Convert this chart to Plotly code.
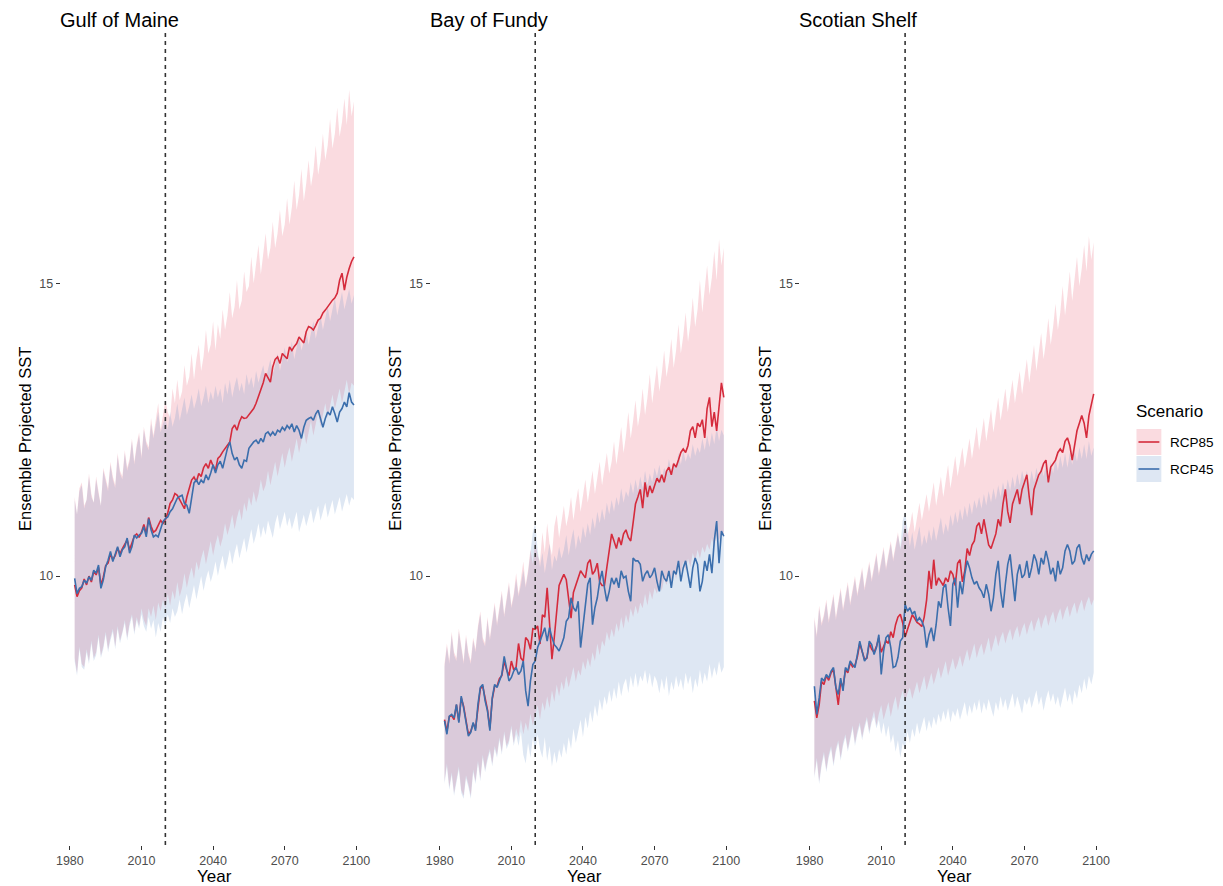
import plotly.graph_objects as go

# ---------------- data ----------------
years = list(range(1982, 2100))
regions = ["Gulf of Maine", "Bay of Fundy", "Scotian Shelf"]
scenarios = ["RCP85", "RCP45"]
x_ticks = [1980, 2010, 2040, 2070, 2100]
y_ticks = [10, 15]
ref_year = 2020

gom_rcp85_mean = [
    9.85, 9.65, 9.75, 9.80, 9.95, 9.85, 10.00, 9.90, 10.08, 10.02,
    10.15, 9.85, 9.98, 10.18, 10.22, 10.38, 10.28, 10.35, 10.48, 10.38,
    10.47, 10.55, 10.62, 10.45, 10.55, 10.68, 10.72, 10.66, 10.75, 10.88,
    10.72, 11.00, 10.85, 10.75, 10.78, 10.88, 10.95, 10.90, 10.96, 11.08,
    11.24, 11.30, 11.41, 11.38, 11.30, 11.21, 11.15, 11.35, 11.50, 11.64,
    11.69, 11.61, 11.75, 11.70, 11.85, 11.92, 11.84, 11.98, 11.88, 11.81,
    12.01, 12.05, 12.12, 12.18, 12.22, 12.29, 12.52, 12.58, 12.49, 12.63,
    12.72, 12.69, 12.70, 12.75, 12.80, 12.86, 12.95, 13.06, 13.17, 13.30,
    13.46, 13.38, 13.31, 13.57, 13.70, 13.74, 13.63, 13.80, 13.76, 13.71,
    13.91, 13.85, 13.92, 13.97, 14.08, 14.03, 13.98, 14.17, 14.26, 14.24,
    14.20, 14.28, 14.37, 14.40, 14.49, 14.54, 14.60, 14.66, 14.71, 14.75,
    14.83, 15.05, 15.17, 14.88, 15.10, 15.25, 15.37, 15.45]
gom_rcp85_lo = [
    8.60, 8.35, 8.80, 8.50, 8.45, 8.75, 8.55, 8.90, 8.60, 8.70,
    9.00, 8.65, 8.80, 9.05, 8.75, 8.95, 9.10, 8.80, 9.15, 8.90,
    9.05, 9.25, 8.95, 9.20, 9.35, 9.05, 9.30, 9.15, 9.45, 9.25,
    9.15, 9.45, 9.30, 9.50, 9.25, 9.55, 9.40, 9.60, 9.45, 9.70,
    9.50, 9.75, 9.60, 9.90, 9.65, 9.80, 10.05, 9.80, 10.00, 10.15,
    9.95, 10.25, 10.10, 10.30, 10.45, 10.20, 10.40, 10.60, 10.35, 10.55,
    10.70, 10.50, 10.65, 10.90, 10.70, 10.85, 11.05, 10.80, 11.00, 11.15,
    10.95, 11.25, 11.10, 11.35, 11.20, 11.45, 11.25, 11.40, 11.65, 11.45,
    11.55, 11.80, 11.55, 11.75, 11.95, 11.70, 11.90, 12.10, 11.85, 12.05,
    12.20, 11.95, 12.15, 12.35, 12.10, 12.30, 12.50, 12.25, 12.45, 12.65,
    12.40, 12.60, 12.80, 12.55, 12.75, 12.95, 12.70, 12.90, 13.10, 12.85,
    13.00, 13.20, 12.95, 13.15, 13.35, 13.10, 13.30, 13.25]
gom_rcp85_hi = [
    11.35, 11.05, 11.50, 11.60, 11.20, 11.30, 11.75, 11.40, 11.25, 11.70,
    11.45, 11.20, 11.85, 11.65, 11.50, 11.95, 11.70, 11.55, 12.10, 11.80,
    11.70, 12.15, 11.85, 12.00, 12.35, 11.95, 12.25, 12.45, 12.05, 12.55,
    12.30, 12.20, 12.70, 12.40, 12.65, 12.95, 12.50, 12.75, 13.00, 12.80,
    12.70, 13.20, 12.95, 13.35, 13.00, 13.15, 13.60, 13.25, 13.40, 13.80,
    13.35, 13.70, 13.95, 13.50, 13.75, 14.20, 13.80, 13.95, 14.35, 13.85,
    14.30, 14.05, 14.55, 14.20, 14.45, 14.85, 14.40, 14.60, 15.05, 14.55,
    14.70, 15.20, 14.85, 14.95, 15.45, 15.00, 15.30, 15.65, 15.15, 15.50,
    15.85, 15.40, 15.60, 16.05, 15.60, 15.85, 16.25, 15.80, 16.00, 16.45,
    16.00, 16.30, 16.75, 16.25, 16.50, 16.95, 16.40, 16.70, 17.10, 16.65,
    16.90, 17.35, 16.85, 17.10, 17.55, 17.10, 17.35, 17.80, 17.30, 17.55,
    18.00, 17.50, 17.75, 18.15, 17.70, 18.30, 17.85, 18.10]
gom_rcp45_mean = [
    9.96, 9.70, 9.79, 9.82, 9.93, 9.88, 9.99, 9.93, 10.10, 10.05,
    10.19, 9.79, 9.93, 10.16, 10.27, 10.42, 10.25, 10.39, 10.50, 10.33,
    10.45, 10.50, 10.65, 10.39, 10.50, 10.70, 10.65, 10.70, 10.73, 10.84,
    10.67, 10.98, 10.79, 10.67, 10.70, 10.67, 10.81, 10.93, 10.98, 11.01,
    11.10, 11.15, 11.24, 11.33, 11.36, 11.38, 11.24, 11.21, 11.07, 11.36,
    11.59, 11.64, 11.56, 11.64, 11.59, 11.73, 11.64, 11.76, 11.90, 11.76,
    11.90, 11.96, 11.84, 12.01, 12.18, 12.29, 12.09, 11.98, 12.03, 11.90,
    11.84, 11.98, 11.96, 12.18, 12.24, 12.29, 12.32, 12.26, 12.35, 12.29,
    12.43, 12.46, 12.40, 12.46, 12.40, 12.49, 12.46, 12.54, 12.49, 12.57,
    12.52, 12.60, 12.46, 12.57, 12.49, 12.35, 12.54, 12.66, 12.69, 12.71,
    12.66, 12.77, 12.83, 12.66, 12.54, 12.69, 12.80, 12.75, 12.89, 12.77,
    12.63, 12.80, 12.86, 12.97, 12.89, 13.13, 12.97, 12.92]
gom_rcp45_lo = [
    8.55, 8.30, 8.75, 8.45, 8.40, 8.70, 8.50, 8.85, 8.55, 8.65,
    8.95, 8.60, 8.75, 9.00, 8.70, 8.90, 9.05, 8.75, 9.10, 8.85,
    9.00, 9.20, 8.90, 9.15, 9.30, 9.00, 9.25, 9.10, 9.35, 9.15,
    9.05, 9.30, 9.10, 9.25, 8.95, 9.20, 9.05, 9.30, 9.15, 9.35,
    9.20, 9.45, 9.30, 9.40, 9.60, 9.35, 9.55, 9.70, 9.45, 9.65,
    9.85, 9.60, 9.80, 10.00, 9.75, 9.95, 10.10, 9.90, 10.05, 10.25,
    10.00, 10.20, 10.35, 10.10, 10.25, 10.45, 10.20, 10.40, 10.55, 10.30,
    10.45, 10.65, 10.40, 10.60, 10.80, 10.55, 10.70, 10.90, 10.65, 10.85,
    10.70, 10.95, 10.80, 10.65, 10.90, 11.05, 10.80, 10.95, 11.10, 10.85,
    11.00, 10.80, 10.95, 11.10, 10.75, 10.90, 11.05, 10.85, 11.00, 11.15,
    10.90, 11.05, 11.20, 10.95, 11.10, 11.25, 11.00, 11.15, 11.30, 11.05,
    11.20, 11.35, 11.10, 11.25, 11.40, 11.20, 11.35, 11.30]
gom_rcp45_hi = [
    11.30, 11.05, 11.45, 11.55, 11.15, 11.30, 11.70, 11.35, 11.25, 11.65,
    11.40, 11.20, 11.80, 11.60, 11.45, 11.90, 11.65, 11.50, 12.05, 11.75,
    11.65, 12.10, 11.80, 11.95, 12.30, 11.90, 12.20, 12.40, 12.00, 12.50,
    12.25, 12.15, 12.60, 12.35, 12.55, 12.80, 12.45, 12.60, 12.70, 12.50,
    12.80, 12.55, 12.70, 12.95, 12.65, 12.85, 13.05, 12.75, 12.90, 13.10,
    12.85, 13.00, 13.20, 12.90, 13.05, 13.25, 12.95, 13.15, 13.00, 13.25,
    13.05, 13.20, 12.95, 13.30, 13.10, 13.35, 13.05, 13.25, 13.40, 13.15,
    13.30, 13.10, 13.45, 13.25, 13.40, 13.20, 13.50, 13.30, 13.45, 13.60,
    13.35, 13.55, 13.70, 13.45, 13.60, 13.80, 13.50, 13.70, 13.90, 13.65,
    13.80, 14.00, 13.70, 13.90, 14.10, 13.85, 14.00, 14.20, 13.95, 14.15,
    14.35, 14.05, 14.25, 14.45, 14.20, 14.40, 14.60, 14.35, 14.55, 14.75,
    14.45, 14.65, 14.85, 14.55, 14.75, 14.90, 14.65, 14.80]

bof_rcp85_mean = [
    7.55, 7.35, 7.60, 7.62, 7.55, 7.80, 7.52, 7.92, 7.78, 7.52,
    7.30, 7.35, 7.48, 7.40, 7.80, 8.08, 8.12, 7.90, 7.72, 7.40,
    7.90, 8.12, 8.12, 8.25, 8.30, 8.55, 8.40, 8.30, 8.55, 8.40,
    8.45, 8.85, 8.60, 8.55, 8.95, 8.90, 8.75, 9.10, 9.09, 9.15,
    8.84, 9.34, 9.30, 9.80, 9.21, 8.58, 8.96, 9.40, 9.84, 9.94,
    10.03, 9.94, 9.59, 9.28, 9.72, 9.84, 9.97, 10.09, 10.03, 9.97,
    10.22, 10.28, 10.03, 10.09, 10.22, 9.90, 9.84, 9.84, 10.15, 10.41,
    10.72, 10.60, 10.47, 10.66, 10.53, 10.72, 10.79, 10.66, 10.60, 10.91,
    11.23, 11.35, 11.48, 11.16, 11.60, 11.35, 11.54, 11.42, 11.54, 11.67,
    11.60, 11.73, 11.60, 11.79, 11.86, 11.73, 11.92, 11.86, 11.98, 12.11,
    12.17, 12.11, 12.23, 12.48, 12.55, 12.36, 12.61, 12.55, 12.67, 12.36,
    12.86, 13.05, 12.55, 12.80, 12.48, 12.92, 13.30, 13.05]
bof_rcp85_lo = [
    6.50, 6.80, 6.40, 6.65, 6.30, 6.55, 6.75, 6.35, 6.25, 6.60,
    6.45, 6.25, 6.70, 6.50, 6.85, 6.55, 6.95, 6.70, 6.90, 7.05,
    6.80, 7.10, 6.95, 7.25, 7.00, 7.35, 7.10, 7.20, 7.45, 7.15,
    7.40, 7.25, 7.55, 7.30, 7.50, 7.35, 7.65, 7.45, 7.60, 7.80,
    7.55, 7.85, 7.70, 7.95, 7.75, 8.05, 7.85, 8.15, 7.95, 8.20,
    8.05, 8.30, 8.10, 8.25, 8.45, 8.20, 8.40, 8.30, 8.55, 8.40,
    8.60, 8.45, 8.70, 8.55, 8.85, 8.65, 8.90, 8.80, 9.05, 8.90,
    9.10, 8.95, 9.20, 9.05, 9.30, 9.10, 9.35, 9.20, 9.45, 9.30,
    9.50, 9.35, 9.55, 9.45, 9.70, 9.50, 9.75, 9.60, 9.80, 9.70,
    9.90, 9.75, 9.95, 9.85, 10.05, 9.90, 10.10, 9.95, 10.15, 10.05,
    10.25, 10.10, 10.30, 10.15, 10.40, 10.25, 10.45, 10.30, 10.50, 10.40,
    10.55, 10.45, 10.65, 10.50, 10.70, 10.60, 10.75, 10.70]
bof_rcp85_hi = [
    8.50, 8.85, 8.55, 9.05, 8.70, 8.60, 9.10, 8.80, 8.55, 9.00,
    8.70, 8.55, 8.95, 8.75, 9.15, 9.40, 8.95, 8.85, 9.30, 8.95,
    9.25, 9.55, 9.20, 9.45, 9.75, 9.35, 9.60, 9.90, 9.50, 9.70,
    10.05, 9.70, 9.95, 10.25, 9.85, 10.10, 10.45, 10.20, 10.60, 10.35,
    10.25, 10.75, 10.40, 10.90, 10.55, 10.35, 10.85, 11.05, 10.65, 10.95,
    11.20, 10.85, 11.05, 11.35, 10.95, 11.25, 11.50, 11.10, 11.35, 11.65,
    11.25, 11.55, 11.80, 11.40, 11.65, 11.95, 11.55, 11.85, 12.10, 11.75,
    11.95, 12.30, 11.90, 12.20, 12.55, 12.10, 12.40, 12.80, 12.35, 12.65,
    13.00, 12.55, 12.80, 13.20, 12.75, 13.05, 13.45, 12.95, 13.25, 13.60,
    13.15, 13.45, 13.85, 13.40, 13.65, 14.05, 13.55, 13.85, 14.30, 13.80,
    14.10, 14.50, 14.00, 14.30, 14.75, 14.25, 14.55, 15.05, 14.50, 14.85,
    15.30, 14.80, 15.10, 15.55, 15.05, 15.75, 15.30, 15.60]
bof_rcp45_mean = [
    7.53, 7.30, 7.61, 7.64, 7.58, 7.81, 7.50, 7.95, 7.75, 7.50,
    7.27, 7.33, 7.50, 7.36, 7.81, 8.10, 8.15, 7.87, 7.70, 7.36,
    7.92, 8.15, 8.10, 8.21, 8.32, 8.63, 8.44, 8.21, 8.27, 8.38,
    8.44, 8.32, 8.38, 8.55, 8.04, 7.78, 8.21, 8.49, 8.55, 8.78,
    8.89, 9.00, 9.12, 8.89, 9.12, 8.95, 8.83, 8.78, 8.72, 8.83,
    8.95, 9.23, 9.29, 9.63, 9.46, 9.40, 9.57, 8.78, 9.12, 9.46,
    9.86, 9.97, 9.17, 9.46, 9.63, 9.91, 10.09, 9.80, 9.57, 9.74,
    9.97, 9.86, 9.97, 9.80, 10.09, 9.97, 10.00, 9.74, 9.57, 10.31,
    10.26, 10.26, 10.20, 9.91, 10.03, 10.09, 9.97, 10.03, 10.14, 9.91,
    9.74, 10.09, 9.97, 9.91, 10.09, 9.80, 10.09, 10.03, 10.26, 9.91,
    10.14, 10.26, 10.03, 9.80, 10.14, 10.31, 10.20, 9.74, 9.91, 10.26,
    10.09, 10.37, 10.05, 10.60, 10.94, 10.22, 10.77, 10.68]
bof_rcp45_lo = [
    6.45, 6.75, 6.35, 6.60, 6.25, 6.50, 6.70, 6.30, 6.20, 6.55,
    6.40, 6.20, 6.65, 6.45, 6.80, 6.50, 6.90, 6.65, 6.85, 7.00,
    6.75, 7.05, 6.90, 7.20, 6.95, 7.30, 7.05, 7.15, 7.40, 7.10,
    7.30, 7.10, 7.35, 6.95, 6.80, 7.15, 6.90, 7.25, 7.00, 7.30,
    7.05, 6.90, 7.25, 6.85, 7.10, 6.75, 7.00, 6.80, 7.05, 6.90,
    7.15, 6.95, 7.25, 7.05, 7.40, 7.15, 7.35, 7.55, 7.25, 7.60,
    7.40, 7.70, 7.50, 7.80, 7.60, 7.90, 7.70, 7.95, 7.80, 8.05,
    7.85, 8.10, 7.90, 8.20, 7.95, 8.15, 8.25, 8.00, 8.30, 8.10,
    8.35, 8.10, 8.30, 8.20, 8.40, 8.15, 8.35, 8.10, 8.30, 8.20,
    8.00, 8.25, 8.05, 8.30, 7.95, 8.20, 8.05, 8.30, 8.10, 8.25,
    8.05, 8.35, 8.15, 8.30, 8.00, 8.25, 8.10, 8.40, 8.15, 8.35,
    8.20, 8.50, 8.25, 8.45, 8.30, 8.55, 8.35, 8.45]
bof_rcp45_hi = [
    8.45, 8.80, 8.50, 9.00, 8.65, 8.55, 9.05, 8.75, 8.50, 8.95,
    8.65, 8.50, 8.90, 8.70, 9.10, 9.35, 8.90, 8.80, 9.25, 8.90,
    9.20, 9.50, 9.15, 9.40, 9.70, 9.30, 9.55, 9.85, 9.45, 9.65,
    9.95, 9.65, 9.85, 10.10, 9.80, 10.05, 10.40, 10.75, 10.90, 10.45,
    10.15, 10.40, 10.05, 10.30, 10.55, 10.10, 10.35, 10.25, 10.50, 10.30,
    10.45, 10.70, 10.35, 10.60, 10.80, 10.45, 10.70, 10.55, 10.85, 10.65,
    10.90, 10.70, 11.00, 10.80, 11.10, 10.90, 11.15, 10.95, 11.25, 11.05,
    11.30, 11.10, 11.35, 11.20, 11.50, 11.25, 11.45, 11.35, 11.60, 11.40,
    11.65, 11.45, 11.70, 11.50, 11.80, 11.55, 11.75, 11.60, 11.85, 11.70,
    11.90, 11.65, 11.85, 11.75, 12.00, 11.80, 11.95, 11.85, 12.10, 11.90,
    12.15, 11.95, 12.10, 12.00, 12.25, 12.05, 12.20, 12.10, 12.35, 12.15,
    12.40, 12.20, 12.45, 12.25, 12.55, 12.30, 12.50, 12.40]

ss_rcp85_mean = [
    7.87, 7.58, 7.80, 8.20, 8.15, 8.30, 8.22, 8.35, 8.40, 8.05,
    7.80, 8.20, 8.10, 8.40, 8.35, 8.52, 8.45, 8.48, 8.62, 8.85,
    8.70, 8.58, 8.60, 8.85, 8.75, 8.70, 8.80, 8.95, 8.70, 8.80,
    8.90, 8.85, 9.05, 8.95, 9.17, 9.30, 9.35, 9.20, 8.96, 9.09,
    9.20, 9.34, 9.28, 9.21, 9.18, 9.14, 9.30, 9.59, 10.09, 9.78,
    10.28, 9.84, 9.97, 9.90, 9.84, 9.97, 9.90, 10.09, 10.03, 9.84,
    10.22, 10.28, 9.90, 10.09, 10.47, 10.35, 10.53, 10.60, 10.85, 10.91,
    10.72, 10.97, 10.72, 10.53, 10.47, 10.60, 10.72, 10.97, 10.85, 11.23,
    11.48, 11.10, 10.91, 11.23, 11.35, 11.48, 11.23, 11.48, 11.60, 11.73,
    11.35, 11.04, 11.48, 11.60, 11.73, 11.79, 11.92, 11.98, 11.60, 11.86,
    11.92, 11.98, 12.11, 12.17, 12.11, 12.30, 12.36, 12.23, 11.98, 12.23,
    12.48, 12.61, 12.74, 12.61, 12.36, 12.74, 12.92, 13.11]
ss_rcp85_lo = [
    6.60, 6.90, 6.50, 6.80, 7.00, 6.70, 6.95, 7.10, 6.80, 7.05,
    7.20, 6.90, 7.15, 7.30, 7.05, 7.25, 7.45, 7.15, 7.35, 7.50,
    7.25, 7.45, 7.60, 7.35, 7.55, 7.70, 7.45, 7.65, 7.80, 7.55,
    7.70, 7.85, 7.60, 7.80, 7.95, 7.70, 7.90, 8.05, 7.85, 8.00,
    8.10, 7.90, 8.05, 8.20, 8.00, 8.15, 8.30, 8.05, 8.20, 8.35,
    8.15, 8.30, 8.45, 8.25, 8.40, 8.55, 8.30, 8.45, 8.60, 8.40,
    8.50, 8.65, 8.45, 8.60, 8.75, 8.55, 8.70, 8.85, 8.60, 8.75,
    8.85, 8.65, 8.80, 8.95, 8.70, 8.85, 9.00, 8.80, 8.95, 9.05,
    8.85, 9.00, 9.10, 8.90, 9.05, 9.15, 8.95, 9.10, 9.20, 9.00,
    9.15, 9.25, 9.05, 9.20, 9.30, 9.10, 9.25, 9.35, 9.15, 9.30,
    9.40, 9.20, 9.35, 9.45, 9.25, 9.40, 9.50, 9.30, 9.45, 9.55,
    9.35, 9.50, 9.60, 9.40, 9.55, 9.65, 9.50, 9.60]
ss_rcp85_hi = [
    9.30, 9.00, 9.50, 9.20, 9.35, 9.60, 9.25, 9.45, 9.70, 9.30,
    9.55, 9.80, 9.45, 9.65, 9.90, 9.55, 9.75, 10.00, 9.70, 9.90,
    10.15, 9.80, 10.05, 10.25, 9.95, 10.20, 10.40, 10.05, 10.30, 10.50,
    10.15, 10.40, 10.60, 10.30, 10.55, 10.75, 10.45, 10.65, 10.90, 10.70,
    10.85, 11.10, 10.75, 11.00, 11.25, 10.95, 11.15, 11.40, 11.10, 11.35,
    11.60, 11.20, 11.45, 11.70, 11.35, 11.65, 11.90, 11.50, 11.80, 12.05,
    11.70, 11.95, 12.20, 11.85, 12.10, 12.35, 12.00, 12.25, 12.55, 12.15,
    12.40, 12.70, 12.30, 12.55, 12.85, 12.45, 12.75, 13.05, 12.65, 12.90,
    13.20, 12.80, 13.05, 13.35, 12.95, 13.20, 13.50, 13.10, 13.40, 13.70,
    13.30, 13.60, 13.95, 13.50, 13.80, 14.15, 13.70, 14.00, 14.40, 13.95,
    14.25, 14.65, 14.20, 14.50, 14.95, 14.45, 14.80, 15.20, 14.70, 15.05,
    15.45, 14.95, 15.25, 15.65, 15.20, 15.80, 15.40, 15.70]
ss_rcp45_mean = [
    8.12, 7.64, 7.92, 8.26, 8.21, 8.32, 8.26, 8.38, 8.44, 8.10,
    7.98, 8.26, 8.04, 8.44, 8.38, 8.55, 8.49, 8.44, 8.66, 8.89,
    8.72, 8.55, 8.61, 8.89, 8.83, 8.66, 8.78, 9.00, 8.32, 8.72,
    8.95, 9.00, 8.78, 8.44, 8.46, 8.61, 8.89, 8.95, 9.52, 9.40,
    9.46, 9.35, 9.40, 9.23, 9.29, 9.23, 9.12, 8.78, 9.00, 9.12,
    8.89, 9.17, 9.57, 9.46, 9.80, 9.86, 9.46, 9.15, 9.86, 9.97,
    9.46, 9.91, 9.69, 10.03, 10.26, 10.14, 9.97, 9.86, 9.91, 9.80,
    9.74, 9.63, 9.86, 9.69, 9.40, 9.63, 10.03, 10.26, 9.74, 9.46,
    9.86, 10.20, 10.37, 9.91, 9.57, 10.03, 10.20, 9.97, 10.03, 10.26,
    9.97, 10.14, 10.37, 10.26, 10.03, 10.31, 10.20, 10.43, 10.26, 10.03,
    10.14, 9.91, 10.26, 10.03, 10.14, 10.43, 10.54, 10.43, 10.20, 10.26,
    10.48, 10.54, 10.31, 10.20, 10.37, 10.26, 10.37, 10.43]
ss_rcp45_lo = [
    6.55, 6.85, 6.45, 6.75, 6.95, 6.65, 6.90, 7.05, 6.75, 7.00,
    7.15, 6.85, 7.10, 7.25, 7.00, 7.20, 7.40, 7.10, 7.30, 7.45,
    7.20, 7.40, 7.55, 7.30, 7.50, 7.60, 7.40, 7.55, 7.30, 7.50,
    7.25, 7.45, 7.15, 7.30, 7.00, 7.20, 6.90, 7.15, 7.05, 7.35,
    7.15, 7.40, 7.25, 7.50, 7.30, 7.45, 7.60, 7.35, 7.55, 7.40,
    7.60, 7.45, 7.65, 7.50, 7.70, 7.55, 7.75, 7.50, 7.70, 7.60,
    7.75, 7.55, 7.70, 7.85, 7.60, 7.80, 7.65, 7.85, 7.70, 7.90,
    7.65, 7.85, 7.70, 7.90, 7.75, 7.60, 7.85, 7.70, 7.95, 7.75,
    7.90, 7.70, 7.85, 8.00, 7.75, 7.95, 7.80, 7.65, 7.90, 7.80,
    7.95, 7.75, 7.90, 8.05, 7.80, 7.95, 7.70, 7.90, 8.05, 7.85,
    8.00, 7.80, 7.95, 7.75, 7.90, 8.10, 7.85, 8.00, 7.80, 8.05,
    7.90, 8.15, 8.00, 8.25, 8.05, 8.30, 8.15, 8.35]
ss_rcp45_hi = [
    9.25, 8.95, 9.45, 9.15, 9.30, 9.55, 9.20, 9.40, 9.65, 9.25,
    9.50, 9.75, 9.40, 9.60, 9.85, 9.50, 9.70, 9.95, 9.65, 9.85,
    10.10, 9.75, 10.00, 10.20, 9.90, 10.15, 10.35, 10.00, 10.25, 10.45,
    10.10, 10.35, 10.55, 10.25, 10.50, 10.70, 10.50, 10.95, 11.10, 10.75,
    10.50, 10.75, 10.45, 10.65, 10.85, 10.50, 10.70, 10.55, 10.80, 10.60,
    10.85, 10.60, 10.80, 11.00, 10.70, 10.90, 10.75, 11.05, 10.85, 11.10,
    10.90, 11.15, 10.95, 11.20, 11.00, 11.25, 11.05, 11.30, 11.15, 11.35,
    11.15, 11.40, 11.20, 11.45, 11.25, 11.50, 11.30, 11.55, 11.35, 11.60,
    11.40, 11.65, 11.45, 11.70, 11.50, 11.75, 11.55, 11.80, 11.60, 11.80,
    11.55, 11.80, 11.60, 11.85, 11.65, 11.90, 11.70, 11.90, 11.65, 11.95,
    11.75, 12.00, 11.80, 12.05, 11.85, 12.10, 11.85, 12.10, 11.90, 12.15,
    11.95, 12.20, 12.00, 12.25, 12.00, 12.30, 12.05, 12.20]

series = {
    "Gulf of Maine": {
        "RCP85": (gom_rcp85_mean, gom_rcp85_lo, gom_rcp85_hi),
        "RCP45": (gom_rcp45_mean, gom_rcp45_lo, gom_rcp45_hi)},
    "Bay of Fundy": {
        "RCP85": (bof_rcp85_mean, bof_rcp85_lo, bof_rcp85_hi),
        "RCP45": (bof_rcp45_mean, bof_rcp45_lo, bof_rcp45_hi)},
    "Scotian Shelf": {
        "RCP85": (ss_rcp85_mean, ss_rcp85_lo, ss_rcp85_hi),
        "RCP45": (ss_rcp45_mean, ss_rcp45_lo, ss_rcp45_hi)},
}

# ---------------- style ----------------
FW, FH = 1223, 886
FONT = "Liberation Sans, Arial, sans-serif"
line_col = {"RCP85": "#d52b3c", "RCP45": "#3b6eac"}
fill_col = {"RCP85": "rgba(230,75,100,0.20)", "RCP45": "rgba(90,135,195,0.20)"}
panel_px = [(56, 365), (428, 737), (800, 1109)]
top_px, bot_px = 33, 845
x_range = [1976.15, 2104.85]
y_range = [5.41, 19.27]


def px(x):
    return x / FW


def py(y):
    return 1 - y / FH


fig = go.Figure()
annotations = []
shapes = []

for i, reg in enumerate(regions):
    xa = "x" if i == 0 else f"x{i + 1}"
    ya = "y" if i == 0 else f"y{i + 1}"
    for sc in scenarios:
        mean, lo, hi = series[reg][sc]
        fig.add_trace(go.Scatter(
            x=years + years[::-1], y=hi + lo[::-1], xaxis=xa, yaxis=ya,
            fill="toself", fillcolor=fill_col[sc], mode="lines",
            line=dict(width=0, color=fill_col[sc]), hoverinfo="skip",
            showlegend=False))
    for sc in scenarios:
        mean, lo, hi = series[reg][sc]
        fig.add_trace(go.Scatter(
            x=years, y=mean, xaxis=xa, yaxis=ya, mode="lines",
            line=dict(width=1.6, color=line_col[sc]), name=sc,
            showlegend=False))

    x0, x1 = panel_px[i]
    ax_common = dict(showgrid=False, zeroline=False, showline=False,
                     ticks="outside", ticklen=4, tickwidth=1,
                     tickcolor="#333333",
                     tickfont=dict(family=FONT, size=12.5, color="#4d4d4d"))
    fig.update_layout(**{
        ("xaxis" if i == 0 else f"xaxis{i + 1}"): dict(
            domain=[px(x0), px(x1)], range=x_range, anchor=ya,
            tickvals=x_ticks, **ax_common),
        ("yaxis" if i == 0 else f"yaxis{i + 1}"): dict(
            domain=[py(bot_px), py(top_px)], range=y_range, anchor=xa,
            tickvals=y_ticks, **ax_common),
    })

    shapes.append(dict(type="line", xref=xa, yref=f"{ya} domain",
                       x0=ref_year, x1=ref_year, y0=0, y1=1,
                       line=dict(color="#333333", width=1.6, dash="4px,4px")))

    annotations.append(dict(text=reg, xref="paper", yref="paper",
                            x=px(x0 - 3), y=py(20), xanchor="left",
                            yanchor="middle", showarrow=False,
                            font=dict(family=FONT, size=20, color="#000000")))
    annotations.append(dict(text="Ensemble Projected SST", xref="paper",
                            yref="paper", x=px(x0 - 36),
                            y=py((top_px + bot_px) / 2),
                            xanchor="center", yanchor="middle", textangle=-90,
                            showarrow=False,
                            font=dict(family=FONT, size=16.5, color="#000000")))
    annotations.append(dict(text="Year", xref="paper", yref="paper",
                            x=px((x0 + x1) / 2), y=py(876), xanchor="center",
                            yanchor="middle", showarrow=False,
                            font=dict(family=FONT, size=17, color="#000000")))

# manual legend
annotations.append(dict(text="Scenario", xref="paper", yref="paper",
                        x=px(1135), y=py(412), xanchor="left", yanchor="middle",
                        showarrow=False,
                        font=dict(family=FONT, size=17, color="#000000")))
for k, sc in enumerate(scenarios):
    top = 429 + k * 27
    shapes.append(dict(type="rect", xref="paper", yref="paper",
                       x0=px(1138), x1=px(1163), y0=py(top + 26), y1=py(top),
                       fillcolor=fill_col[sc], line=dict(width=0)))
    shapes.append(dict(type="line", xref="paper", yref="paper",
                       x0=px(1140), x1=px(1161), y0=py(top + 13), y1=py(top + 13),
                       line=dict(color=line_col[sc], width=1.6)))
    annotations.append(dict(text=sc, xref="paper", yref="paper",
                            x=px(1170), y=py(top + 13), xanchor="left",
                            yanchor="middle", showarrow=False,
                            font=dict(family=FONT, size=13.5, color="#000000")))

fig.update_layout(width=FW, height=FH, margin=dict(l=0, r=0, t=0, b=0),
                  paper_bgcolor="white", plot_bgcolor="white",
                  showlegend=False, annotations=annotations, shapes=shapes,
                  font=dict(family=FONT))

# remove the browser's default 8px page margin so the figure fills the window
fig.write_html("out.html",
               config={"displayModeBar": False},
               post_script="document.body.style.margin='0';"
                           "document.body.style.overflow='hidden';")
